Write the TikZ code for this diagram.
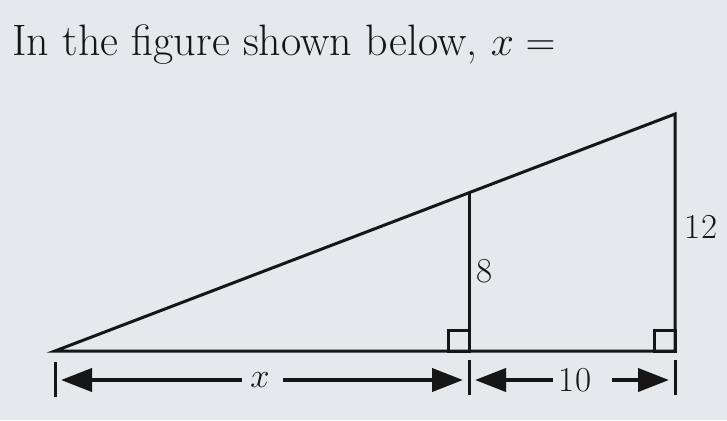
\documentclass[tikz,border=0pt]{standalone}
\usepackage{amsmath,amssymb}
\usepackage{color}
\usepackage{tikz}
\usetikzlibrary{arrows.meta}

\definecolor{paper}{RGB}{229,233,236}
\definecolor{ink}{RGB}{22,22,22}

\begin{document}
\begin{tikzpicture}[x=0.5pt,y=0.5pt,
  side/.style={ink,line width=1.5pt},
  dimline/.style={ink,line width=2pt},
  tick/.style={ink,line width=1.5pt},
  lbl/.style={ink,font=\fontsize{17.5}{20}\selectfont,inner sep=0pt},
  tip/.tip={Triangle[length=15.5pt,width=11.5pt]}]
\fill[paper] (0,0) rectangle (727,420);
\useasboundingbox (0,0) rectangle (727,420);

\node[ink,anchor=base west,inner sep=0pt,font=\fontsize{22}{26}\selectfont] (title) at (12,365) {In the figure shown below, $x =$};

% triangle
\coordinate (A) at (55,69);
\coordinate (B) at (469,69);
\coordinate (C) at (469,227);
\coordinate (D) at (675,69);
\coordinate (E) at (675,306);
\draw[side] (A) -- (D) -- (E) -- cycle;
\draw[side] (B) -- (C);

% right angles
\draw[side] (448,69) rectangle (469,90);
\draw[side] (654,69) rectangle (675,90);

\node[lbl] (eight) at (485,149) {8};
\node[lbl] (twelve) at (701,193) {12};

% dimensions
\coordinate (tl) at (55,40);
\coordinate (tm) at (469,40);
\coordinate (tr) at (675,40);
\draw[tick] (55,23) -- (55,58);
\draw[tick] (469,25) -- (469,60);
\draw[tick] (675,25) -- (675,60);

\node[lbl] (xlbl) at (260,40) {$x$};
\node[lbl] (ten) at (575,40) {10};
\draw[dimline,tip-] ([xshift=3]tl) -- (242,40);
\draw[dimline,-tip] (283,40) -- ([xshift=-3]tm);
\draw[dimline,tip-] ([xshift=3]tm) -- (553,40);
\draw[dimline,-tip] (612,40) -- ([xshift=-3]tr);
\end{tikzpicture}
\end{document}
